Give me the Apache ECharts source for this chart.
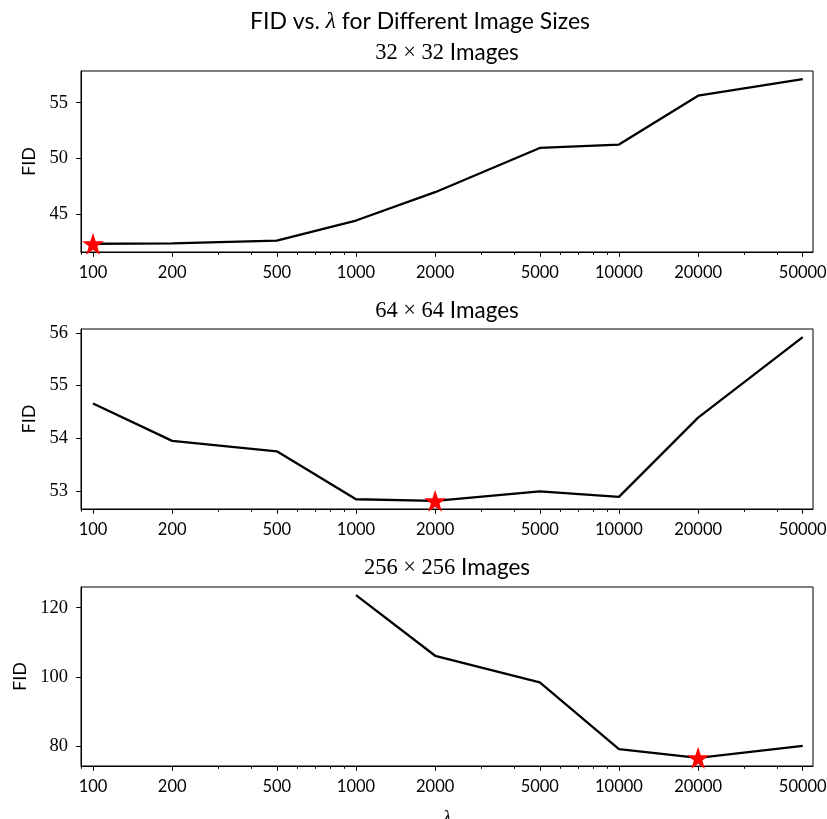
<!DOCTYPE html>
<html><head><meta charset="utf-8">
<script src="https://cdn.jsdelivr.net/npm/echarts@6/dist/echarts.min.js"></script>
<style>html,body{margin:0;padding:0;background:#fff}#c{width:827px;height:819px}</style>
</head><body><div id="c"></div>
<script>
// ---- data ----
const lambdas = [100, 200, 500, 1000, 2000, 5000, 10000, 20000, 50000];
const fid32  = [42.31, 42.35, 42.60, 44.40, 46.95, 50.93, 51.23, 55.63, 57.11];
const fid64  = [54.66, 53.95, 53.75, 52.84, 52.81, 52.99, 52.885, 54.39, 55.92];
const fid256 = [null, null, null, 123.65, 106.1, 98.4, 79.1, 76.55, 80.0];
const xMajorTicks = [100, 200, 500, 1000, 2000, 5000, 10000, 20000, 50000];
const xMinorTicks = [90, 300, 400, 600, 700, 800, 900, 3000, 4000, 6000, 7000, 8000, 9000, 30000, 40000];
const yTicks32  = [45, 50, 55];
const yTicks64  = [53, 54, 55, 56];
const yTicks256 = [80, 100, 120];
const sizeLabels = ['32 × 32', '64 × 64', '256 × 256'];
const mainTitle = ['FID vs. ', 'λ', ' for Different Image Sizes'];

// ---- layout ----
const SANS = 'Lato';
const SERIF = 'Liberation Serif';
const panels = [
  { fid: fid32,  ticks: yTicks32,  top: 71,  height: 181, titleY: 53 },
  { fid: fid64,  ticks: yTicks64,  top: 329, height: 180, titleY: 311 },
  { fid: fid256, ticks: yTicks256, top: 587, height: 179, titleY: 568 }
];
const GL = 81, GR = 14;
const XMIN = 90, XMAX = 54700;
const STAR = 'path://M50,2 L61.8,36.2 L97.6,36.2 L68.6,57.6 L79.4,92 L50,71 L20.6,92 L31.4,57.6 L2.4,36.2 L38.2,36.2 Z';

const grid = [], xAxis = [], yAxis = [], series = [], graphic = [];
panels.forEach((p, i) => {
  grid.push({ left: GL, right: GR, top: p.top, height: p.height, show: true,
              outerBoundsMode: 'none', containLabel: false,
              borderColor: '#000', borderWidth: 1, backgroundColor: 'transparent' });
  const vals = p.fid.filter(v => v != null);
  const dMin = Math.min(...vals), dMax = Math.max(...vals), span = dMax - dMin;
  yAxis.push({
    type: 'value', gridIndex: i, min: dMin - 0.05 * span, max: dMax + 0.05 * span,
    axisLine: { show: true, lineStyle: { color: '#000', width: 1 } },
    axisTick: { show: true, customValues: p.ticks, length: 4.8, lineStyle: { color: '#000', width: 1 } },
    axisLabel: { customValues: p.ticks, fontFamily: SERIF, fontSize: 18.5, color: '#000', margin: 13 },
    splitLine: { show: false },
    name: 'FID', nameLocation: 'middle', nameGap: 41,
    nameTextStyle: { fontFamily: SANS, fontSize: 18, color: '#000' }
  });
  series.push({
    type: 'line', xAxisIndex: i, yAxisIndex: i, symbol: 'none', silent: true,
    lineStyle: { color: '#000', width: 2.3 },
    data: lambdas.map((x, j) => [x, p.fid[j]]).filter(d => d[1] != null),
    z: 3
  });
  let mi = -1;
  p.fid.forEach((v, j) => { if (v != null && (mi < 0 || v < p.fid[mi])) mi = j; });
  series.push({
    type: 'scatter', xAxisIndex: i, yAxisIndex: i, symbol: STAR, symbolSize: 22,
    itemStyle: { color: '#ff0000', opacity: 1 }, silent: true,
    data: [[lambdas[mi], p.fid[mi]]], z: 4
  });
  graphic.push({
    type: 'text', x: GL + (827 - GL - GR) / 2, y: p.titleY,
    style: {
      text: '{m|' + sizeLabels[i] + '}{s| Images}', align: 'center', verticalAlign: 'middle', fill: '#000',
      rich: { m: { fontFamily: SERIF, fontSize: 22.5, fill: '#000' }, s: { fontFamily: SANS, fontSize: 22.5, fill: '#000' } }
    }
  });
});
panels.forEach((p, i) => {
  xAxis.push({
    type: 'log', logBase: 10, gridIndex: i, min: XMIN, max: XMAX, position: 'bottom',
    axisLine: { show: true, onZero: false, lineStyle: { color: '#000', width: 1 } },
    axisTick: { show: true, customValues: xMajorTicks, length: 4.8, lineStyle: { color: '#000', width: 1 } },
    axisLabel: { customValues: xMajorTicks, fontFamily: SANS, fontSize: 16.5, color: '#000', margin: 12,
                 formatter: v => String(Math.round(v)) },
    splitLine: { show: false }, minorTick: { show: false },
    name: i === 2 ? 'λ' : '', nameLocation: 'middle', nameGap: 42,
    nameTextStyle: { fontFamily: SERIF, fontStyle: 'italic', fontSize: 19, color: '#000' }
  });
});
panels.forEach((p, i) => {
  xAxis.push({
    type: 'log', logBase: 10, gridIndex: i, min: XMIN, max: XMAX, position: 'bottom',
    axisLine: { show: false, onZero: false },
    axisTick: { show: true, customValues: xMinorTicks, length: 2.8, lineStyle: { color: '#000', width: 1 } },
    axisLabel: { show: false }, splitLine: { show: false }, minorTick: { show: false }
  });
});
graphic.push({
  type: 'text', x: 420, y: 22,
  style: {
    text: '{s|' + mainTitle[0] + '}{l|' + mainTitle[1] + '}{s|' + mainTitle[2] + '}',
    align: 'center', verticalAlign: 'middle', fill: '#000',
    rich: { s: { fontFamily: SANS, fontSize: 23, fill: '#000' },
            l: { fontFamily: SERIF, fontStyle: 'italic', fontSize: 23.5, fill: '#000' } }
  }
});

const chart = echarts.init(document.getElementById('c'), null, { renderer: 'canvas' });
chart.setOption({
  animation: false, backgroundColor: '#fff',
  grid, xAxis, yAxis, series, graphic
});
</script></body></html>
